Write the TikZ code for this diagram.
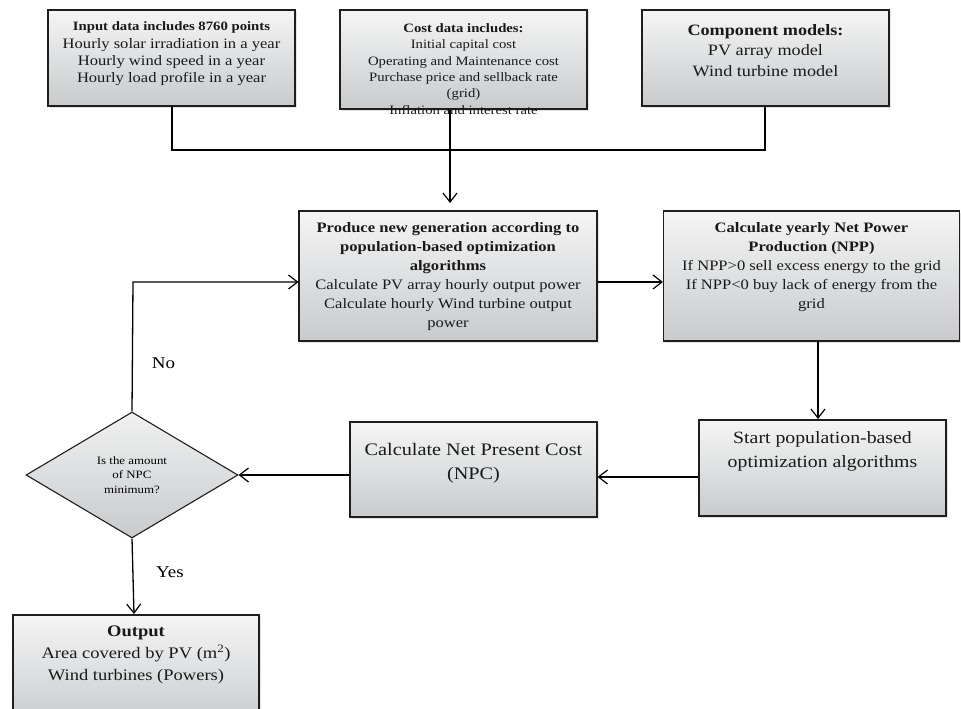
\documentclass[tikz,border=0pt]{standalone}
\usepackage{fontspec}
\setmainfont{Liberation Serif}[FakeStretch=1.15]
\usetikzlibrary{arrows.meta,shapes.geometric,shadows}
\definecolor{gtop}{RGB}{245,245,245}
\definecolor{gbot}{RGB}{200,202,204}
\definecolor{edge}{RGB}{30,30,30}
\begin{document}
\begin{tikzpicture}[x=1pt,y=-1pt,
  box/.style={draw=edge, line width=1.1pt, top color=gtop, bottom color=gbot,
    drop shadow={opacity=0.22, shadow xshift=1.5pt, shadow yshift=-1.5pt},
    inner sep=0pt},
  dia/.style={diamond, draw=edge, line width=1.1pt, top color=gtop!90!gbot, bottom color=gbot,
    inner sep=0pt, align=center, font=\fontsize{11.2}{14.5}\selectfont},
  txt/.style={align=center, inner sep=0pt, text=black!90},
  conn/.style={draw=black, line width=1.3pt},
  arr/.style={conn, -{Straight Barb[length=9pt,width=14pt,line width=1.2pt]}},
  lbl/.style={inner sep=0pt, font=\fontsize{16.5}{20}\selectfont}
]
\useasboundingbox (0,0) rectangle (961,709);

% boxes
\node[box, minimum width=247pt, minimum height=96pt] (b1) at (171.5,58) {};
\node[box, minimum width=247pt, minimum height=99pt] (b2) at (463.5,59.5) {};
\node[box, minimum width=247pt, minimum height=96pt] (b3) at (765.5,58) {};
\node[box, minimum width=298pt, minimum height=130pt] (b4) at (448,276) {};
\node[box, minimum width=296pt, minimum height=130pt] (b5) at (811.5,276) {};
\node[box, minimum width=247pt, minimum height=96pt] (b6) at (822.5,468) {};
\node[box, minimum width=247pt, minimum height=95pt] (b7) at (473.5,469.5) {};
\node[box, minimum width=246pt, minimum height=110pt] (b8) at (136,670) {};
\node[dia, minimum width=212pt, minimum height=126pt] (d) at (132,475)
  {Is the amount\\of NPC\\minimum?};

% texts
\node[txt, font=\fontsize{14.4}{17.4}\selectfont] (t1) at (171.5,54)
  {{\fontsize{12.8}{17.4}\selectfont\bfseries Input data includes 8760 points}\\
   Hourly solar irradiation in a year\\Hourly wind speed in a year\\Hourly load profile in a year};
\node[txt, font=\fontsize{12.8}{16.4}\selectfont] (t2) at (463.5,69)
  {\textbf{Cost data includes:}\\Initial capital cost\\Operating and Maintenance cost\\
   Purchase price and sellback rate\\(grid)\\Inflation and interest rate};
\node[txt, font=\fontsize{15.8}{20.5}\selectfont] (t3) at (765.5,50.5)
  {\textbf{Component models:}\\PV array model\\Wind turbine model};
\node[txt, font=\fontsize{14.4}{19}\selectfont] (t4) at (448,276.5)
  {\textbf{Produce new generation according to}\\\textbf{population-based optimization}\\
   \textbf{algorithms}\\Calculate PV array hourly output power\\Calculate hourly Wind turbine output\\power};
\node[txt, font=\fontsize{14.4}{19}\selectfont] (t5) at (811.5,267.5)
  {\textbf{Calculate yearly Net Power}\\\textbf{Production (NPP)}\\
   If NPP>0 sell excess energy to the grid\\If NPP<0 buy lack of energy from the\\grid};
\node[txt, font=\fontsize{17.2}{23.5}\selectfont] (t6) at (822.5,451.5)
  {Start population-based\\optimization algorithms};
\node[txt, font=\fontsize{17.6}{24}\selectfont] (t7) at (473.5,463)
  {Calculate Net Present Cost\\(NPC)};
\node[txt, font=\fontsize{16.1}{22}\selectfont] (t8) at (136,655)
  {\textbf{Output}\\Area covered by PV (m\textsuperscript{2})\\Wind turbines (Powers)};

% labels
\node[lbl] (no) at (163.5,363) {No};
\node[lbl] (yes) at (170,572) {Yes};

% junction coordinates
\coordinate (j1) at (172,150);
\coordinate (j3) at (765,150);
\coordinate (jx) at (450,150);
\coordinate (a4) at (450,203);
\coordinate (fb) at (133,282);
\coordinate (c5) at (818,341);
\coordinate (a6) at (818,419);
\coordinate (c6) at (699,477);
\coordinate (c7) at (350,475);
\coordinate (c8) at (134,538);
\coordinate (a8) at (134,614);

% connectors
\draw[conn] (b1.south -| j1) -- (j1) -- (j3) -- (b3.south -| j3);
\draw[arr] (b2.south -| jx) -- (a4);
\draw[arr] (d.north) -- (fb) -- (b4.west |- fb);
\draw[arr] (b4.east |- fb) -- (b5.west |- fb);
\draw[arr] (b5.south -| c5) -- (a6);
\draw[arr] (b6.west |- c6) -- (b7.east |- c6);
\draw[arr] (b7.west |- c7) -- (d.east);
\draw[arr] (d.south) -- (a8);
\end{tikzpicture}
\end{document}
